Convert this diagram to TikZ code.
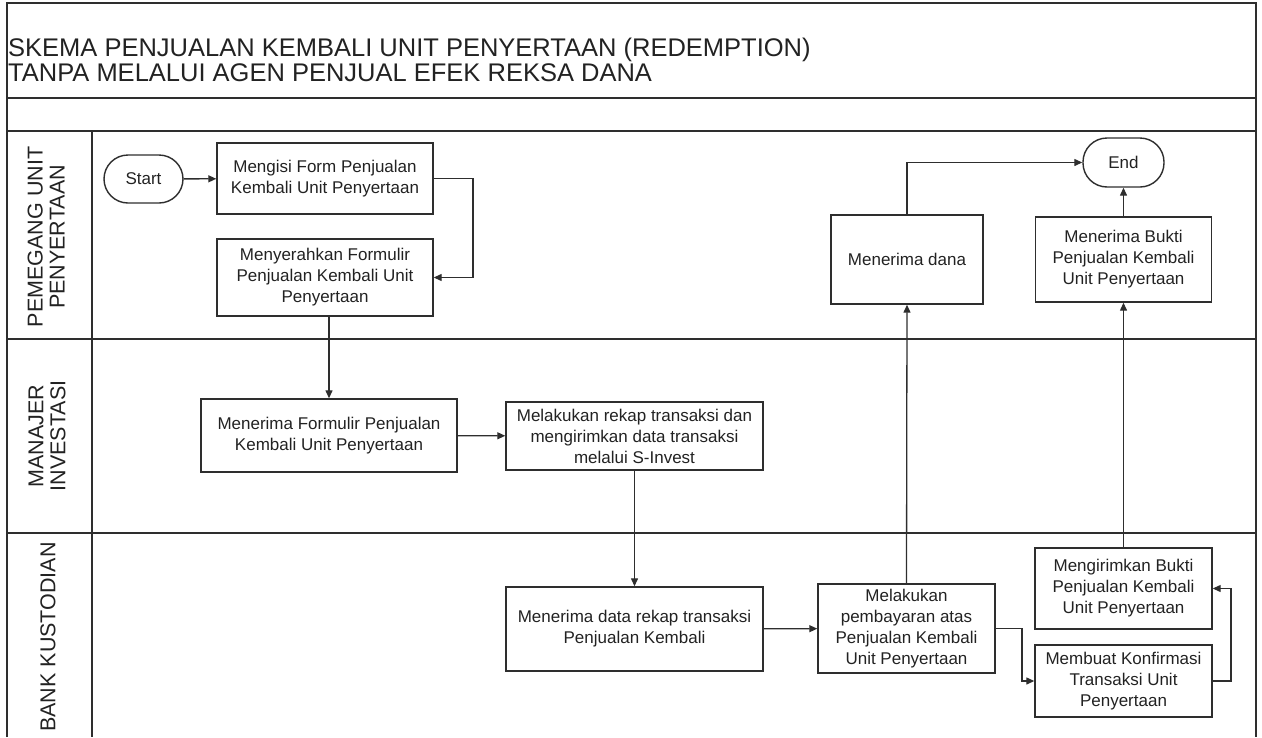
\documentclass[tikz,border=0pt]{standalone}
\usepackage{fontspec}
\setmainfont{Liberation Sans}
\usetikzlibrary{arrows.meta}
\definecolor{ln}{HTML}{2E2E2E}
\definecolor{tx}{HTML}{222222}
\tikzset{
  frame/.style={draw=ln, line width=1.5pt},
  proc/.style={draw=ln, line width=1.4pt, rectangle, align=center, inner sep=0pt,
    font=\fontsize{17}{21}\selectfont, text=tx},
  term/.style={draw=ln, line width=1.4pt, rectangle, rounded corners=24pt, inner sep=0pt,
    font=\fontsize{17}{21}\selectfont, text=tx},
  lane/.style={rotate=90, align=center, font=\fontsize{21.5}{22}\selectfont, text=tx},
  conn/.style={draw=ln, line width=1.3pt, -{Triangle[length=8pt,width=7pt]}},
}
\begin{document}
\begin{tikzpicture}[x=1pt,y=-1pt]
\useasboundingbox (0,0) rectangle (1262,737);
% frame
\draw[frame] (7,737) -- (7,3) -- (1256,3) -- (1256,737);
\draw[frame] (7,98) -- (1256,98);
\draw[frame] (7,131) -- (1256,131);
\draw[frame] (7,339) -- (1256,339);
\draw[frame] (7,533) -- (1256,533);
\draw[frame] (92,131) -- (92,737);
% title
\node[anchor=west, align=left, font=\fontsize{25.5}{24.5}\selectfont, text=tx, inner sep=0pt] (title) at (8,60)
  {SKEMA PENJUALAN KEMBALI UNIT PENYERTAAN (REDEMPTION)\\TANPA MELALUI AGEN PENJUAL EFEK REKSA DANA};
% lane labels
\node[lane] (l1) at (46,237) {PEMEGANG UNIT\\PENYERTAAN};
\node[lane] (l2) at (47,436) {MANAJER\\INVESTASI};
\node[lane] (l3) at (48,637) {BANK KUSTODIAN};
% nodes
\node[term, minimum width=79pt, minimum height=48pt] (start) at (143.5,179) {Start};
\node[proc, minimum width=216pt, minimum height=71pt] (A) at (325,178.5) {Mengisi Form Penjualan\\Kembali Unit Penyertaan};
\node[proc, minimum width=216pt, minimum height=77pt] (B) at (325,277.5) {Menyerahkan Formulir\\Penjualan Kembali Unit\\Penyertaan};
\node[proc, minimum width=256pt, minimum height=73pt] (C) at (329,435.5) {Menerima Formulir Penjualan\\Kembali Unit Penyertaan};
\node[proc, minimum width=257pt, minimum height=68pt] (D) at (634.5,436) {Melakukan rekap transaksi dan\\mengirimkan data transaksi\\melalui S-Invest};
\node[proc, minimum width=257pt, minimum height=84pt] (E) at (634.5,629) {Menerima data rekap transaksi\\Penjualan Kembali};
\node[proc, minimum width=177pt, minimum height=89pt] (F) at (906.5,628.5) {Melakukan\\pembayaran atas\\Penjualan Kembali\\Unit Penyertaan};
\node[proc, minimum width=177pt, minimum height=72pt] (G) at (1123.5,681) {Membuat Konfirmasi\\Transaksi Unit\\Penyertaan};
\node[proc, minimum width=177pt, minimum height=81pt] (H) at (1123.5,588.5) {Mengirimkan Bukti\\Penjualan Kembali\\Unit Penyertaan};
\node[proc, minimum width=152pt, minimum height=89pt] (I) at (907,259.5) {Menerima dana};
\node[proc, minimum width=176pt, minimum height=85pt] (J) at (1123.5,259.5) {Menerima Bukti\\Penjualan Kembali\\Unit Penyertaan};
\node[term, minimum width=81pt, minimum height=49pt] (end) at (1123.5,162.5) {End};
% connectors
\coordinate (a1) at (473,178.5);
\coordinate (f1) at (1022,628.5);
\coordinate (g1) at (1231,681);
\draw[conn] (start) -- (A);
\draw[conn] (A.east) -- (a1) |- (B.east);
\draw[conn] (B.south -| C.north) -- (C.north);
\draw[conn] (C) -- (D);
\draw[conn] (D) -- (E);
\draw[conn] (E) -- (F);
\draw[conn] (F.east) -- (f1) |- (G.west);
\draw[conn] (G.east) -- (g1) |- (H.east);
\draw[conn] (H) -- (J);
\draw[conn] (F.north) -- (I.south);
\draw[conn] (I.north) |- (end.west);
\draw[conn] (J) -- (end);
\end{tikzpicture}
\end{document}
